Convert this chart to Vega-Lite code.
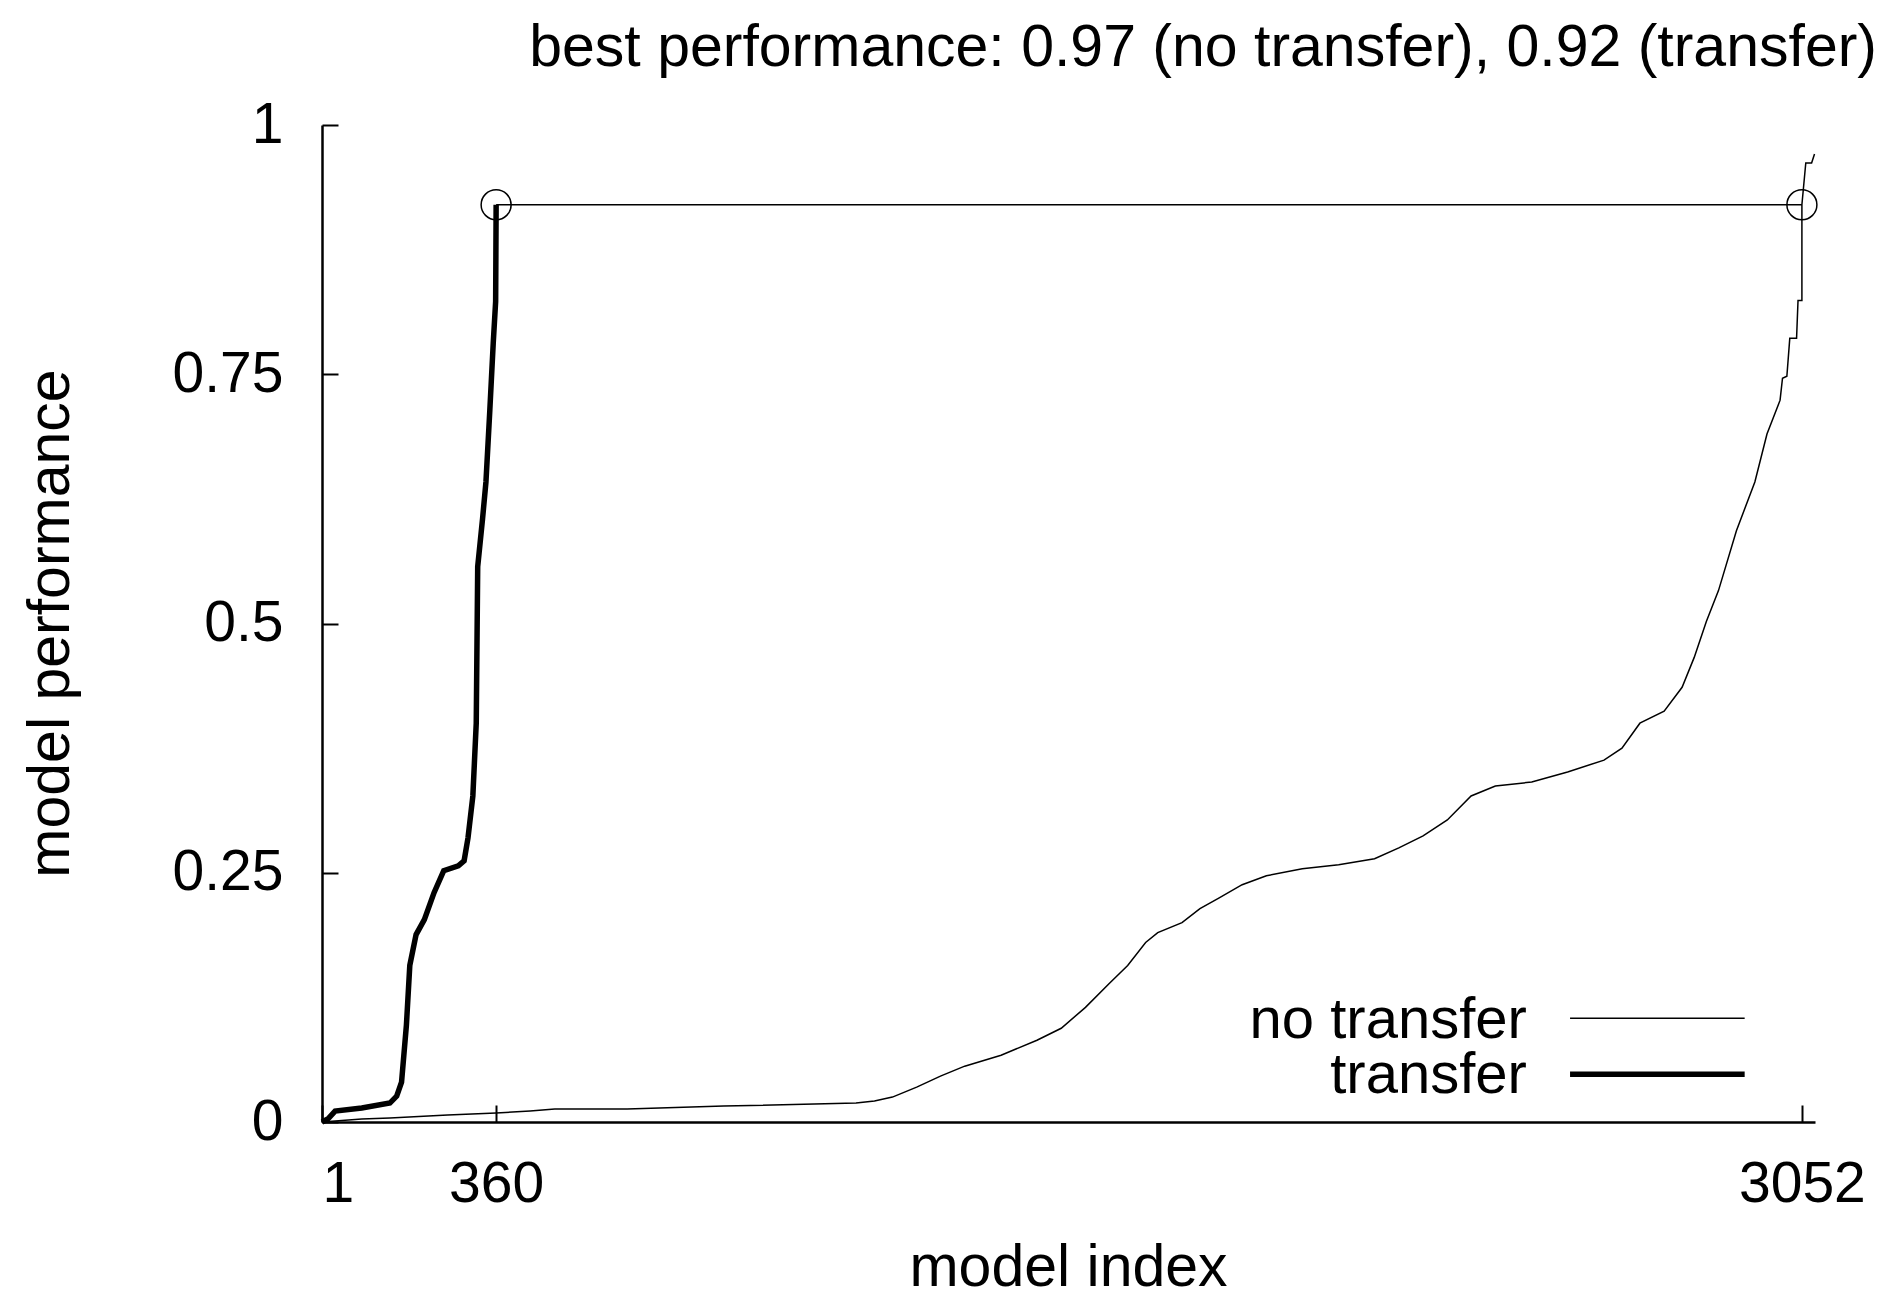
{
  "$schema": "https://vega.github.io/schema/vega-lite/v6.json",
  "width": 1493,
  "height": 997,
  "autosize": {"type": "none"},
  "padding": {"left": 322, "top": 125, "right": 77, "bottom": 175},
  "background": "white",
  "config": {
    "view": {"stroke": null},
    "font": "Liberation Sans",
    "axis": {
      "grid": false,
      "domainColor": "black",
      "domainWidth": 2.5,
      "tickColor": "black",
      "tickWidth": 2,
      "labelFont": "Liberation Sans",
      "labelFontSize": 57,
      "labelColor": "black",
      "titleFont": "Liberation Sans",
      "titleFontSize": 59,
      "titleFontWeight": "normal",
      "titleColor": "black"
    }
  },
  "title": {
    "text": "best performance: 0.97 (no transfer), 0.92 (transfer)",
    "anchor": "end",
    "frame": "group",
    "font": "Liberation Sans",
    "fontSize": 59,
    "fontWeight": "normal",
    "color": "black",
    "baseline": "alphabetic",
    "offset": -29,
    "dx": 62
  },
  "datasets": {
    "nt": [
      {"x": 1, "y": 0},
      {"x": 83, "y": 0.003},
      {"x": 141, "y": 0.004},
      {"x": 260, "y": 0.007},
      {"x": 360, "y": 0.009},
      {"x": 430, "y": 0.011},
      {"x": 481, "y": 0.013},
      {"x": 630, "y": 0.013},
      {"x": 829, "y": 0.016},
      {"x": 1102, "y": 0.019},
      {"x": 1140, "y": 0.021},
      {"x": 1177, "y": 0.025},
      {"x": 1227, "y": 0.035},
      {"x": 1276, "y": 0.046},
      {"x": 1326, "y": 0.056},
      {"x": 1401, "y": 0.067},
      {"x": 1475, "y": 0.082},
      {"x": 1525, "y": 0.094},
      {"x": 1575, "y": 0.115},
      {"x": 1624, "y": 0.139},
      {"x": 1662, "y": 0.157},
      {"x": 1699, "y": 0.18},
      {"x": 1724, "y": 0.19},
      {"x": 1774, "y": 0.2},
      {"x": 1811, "y": 0.214},
      {"x": 1848, "y": 0.224},
      {"x": 1898, "y": 0.238},
      {"x": 1948, "y": 0.247},
      {"x": 2022, "y": 0.254},
      {"x": 2097, "y": 0.258},
      {"x": 2171, "y": 0.264},
      {"x": 2221, "y": 0.275},
      {"x": 2271, "y": 0.287},
      {"x": 2321, "y": 0.303},
      {"x": 2370, "y": 0.327},
      {"x": 2420, "y": 0.337},
      {"x": 2495, "y": 0.341},
      {"x": 2569, "y": 0.351},
      {"x": 2644, "y": 0.363},
      {"x": 2681, "y": 0.375},
      {"x": 2718, "y": 0.4},
      {"x": 2768, "y": 0.412},
      {"x": 2805, "y": 0.436},
      {"x": 2830, "y": 0.466},
      {"x": 2855, "y": 0.502},
      {"x": 2880, "y": 0.533},
      {"x": 2917, "y": 0.593},
      {"x": 2955, "y": 0.642},
      {"x": 2980, "y": 0.69},
      {"x": 3007, "y": 0.724},
      {"x": 3012, "y": 0.746},
      {"x": 3021, "y": 0.748},
      {"x": 3027, "y": 0.786},
      {"x": 3041, "y": 0.786},
      {"x": 3044, "y": 0.824},
      {"x": 3052, "y": 0.824},
      {"x": 3052, "y": 0.92},
      {"x": 3060, "y": 0.962},
      {"x": 3072, "y": 0.962},
      {"x": 3078, "y": 0.971}
    ],
    "tr": [
      {"x": 1, "y": 0},
      {"x": 13, "y": 0.003},
      {"x": 28, "y": 0.011},
      {"x": 83, "y": 0.014},
      {"x": 141, "y": 0.019},
      {"x": 155, "y": 0.026},
      {"x": 165, "y": 0.04},
      {"x": 175, "y": 0.097},
      {"x": 182, "y": 0.157},
      {"x": 195, "y": 0.188},
      {"x": 212, "y": 0.203},
      {"x": 232, "y": 0.23},
      {"x": 252, "y": 0.252},
      {"x": 282, "y": 0.257},
      {"x": 294, "y": 0.262},
      {"x": 302, "y": 0.285},
      {"x": 312, "y": 0.327},
      {"x": 319, "y": 0.4},
      {"x": 322, "y": 0.557},
      {"x": 332, "y": 0.605},
      {"x": 339, "y": 0.642},
      {"x": 347, "y": 0.714},
      {"x": 354, "y": 0.781},
      {"x": 359, "y": 0.823},
      {"x": 360, "y": 0.92}
    ],
    "best": [
      {"x": 360, "x2": 3052, "y": 0.92}
    ],
    "marks": [
      {"x": 360, "y": 0.92},
      {"x": 3052, "y": 0.92}
    ],
    "legendText": [
      {"x": 2485, "y": 0.0843, "label": "no transfer"},
      {"x": 2485, "y": 0.029, "label": "transfer"}
    ],
    "legendThin": [{"x": 2574, "x2": 2934, "y": 0.104}],
    "legendThick": [{"x": 2574, "x2": 2934, "y": 0.048}]
  },
  "layer": [
    {
      "data": {"name": "nt"},
      "mark": {"type": "line", "color": "black", "strokeWidth": 1.5},
      "encoding": {
        "x": {
          "field": "x", "type": "quantitative",
          "scale": {"domain": [1, 3079], "nice": false, "zero": false},
          "axis": {
            "title": "model index",
            "values": [1, 360, 3052],
            "format": "d",
            "tickSize": -17,
            "labelPadding": 51,
            "titleBaseline": "alphabetic",
            "titleY": 163,
            "titleX": 746
          }
        },
        "y": {
          "field": "y", "type": "quantitative",
          "scale": {"domain": [0, 1], "nice": false, "zero": true},
          "axis": {
            "title": "model performance",
            "values": [0, 0.25, 0.5, 0.75, 1],
            "format": "~g",
            "tickSize": -16,
            "labelPadding": 55,
            "titleBaseline": "alphabetic",
            "titleAngle": -90,
            "titleX": -254,
            "titleY": 498
          }
        }
      }
    },
    {
      "data": {"name": "tr"},
      "mark": {"type": "line", "color": "black", "strokeWidth": 5.5, "strokeJoin": "miter"},
      "encoding": {
        "x": {"field": "x", "type": "quantitative"},
        "y": {"field": "y", "type": "quantitative"}
      }
    },
    {
      "data": {"name": "best"},
      "mark": {"type": "rule", "color": "black", "strokeWidth": 1.5},
      "encoding": {
        "x": {"field": "x", "type": "quantitative"},
        "x2": {"field": "x2"},
        "y": {"field": "y", "type": "quantitative"}
      }
    },
    {
      "data": {"name": "marks"},
      "mark": {"type": "point", "shape": "circle", "filled": false, "color": "black", "size": 900, "strokeWidth": 1.5, "opacity": 1},
      "encoding": {
        "x": {"field": "x", "type": "quantitative"},
        "y": {"field": "y", "type": "quantitative"}
      }
    },
    {
      "data": {"name": "legendThin"},
      "mark": {"type": "rule", "color": "black", "strokeWidth": 1.5},
      "encoding": {
        "x": {"field": "x", "type": "quantitative"},
        "x2": {"field": "x2"},
        "y": {"field": "y", "type": "quantitative"}
      }
    },
    {
      "data": {"name": "legendThick"},
      "mark": {"type": "rule", "color": "black", "strokeWidth": 5.5},
      "encoding": {
        "x": {"field": "x", "type": "quantitative"},
        "x2": {"field": "x2"},
        "y": {"field": "y", "type": "quantitative"}
      }
    },
    {
      "data": {"name": "legendText"},
      "mark": {"type": "text", "align": "right", "baseline": "alphabetic", "font": "Liberation Sans", "fontSize": 58, "color": "black"},
      "encoding": {
        "x": {"field": "x", "type": "quantitative"},
        "y": {"field": "y", "type": "quantitative"},
        "text": {"field": "label"}
      }
    }
  ]
}
